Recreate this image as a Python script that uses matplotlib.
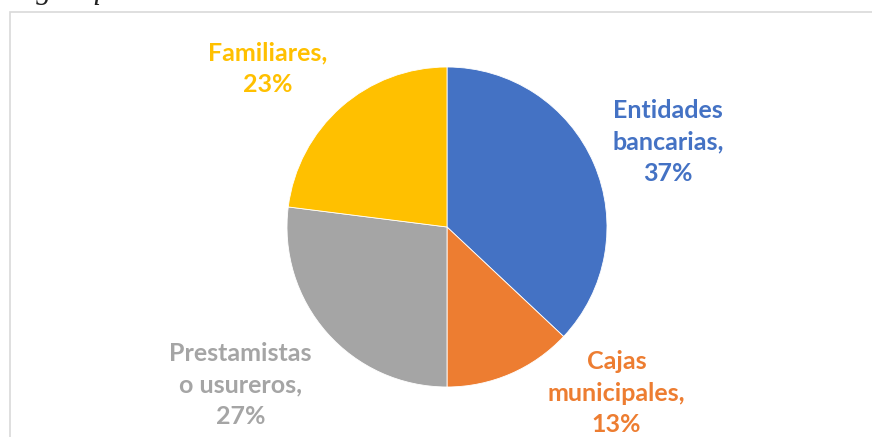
import matplotlib.pyplot as plt
from matplotlib.patches import Rectangle

categories = ['Entidades\nbancarias', 'Cajas\nmunicipales', 'Prestamistas\no usureros', 'Familiares']
values = [37, 13, 27, 23]
colors = ['#4472C4', '#ED7D31', '#A5A5A5', '#FFC000']

# label centres in data units of the pie (radius 1)
label_pos = [(1.38, 0.53), (1.06, -1.04), (-1.29, -0.99), (-1.12, 0.99)]

W, H = 872, 437
fig = plt.figure(figsize=(W / 100, H / 100), dpi=100)

# chart frame (cut off at the right and bottom)
fig.patches.append(Rectangle((9.5 / W, -0.1), 1.2, (H - 11.5) / H + 0.1,
                             transform=fig.transFigure, fill=False,
                             edgecolor='#d9d9d9', linewidth=1.2))

# caption above the chart, mostly cut off
fig.text(4 / W, 1 + 2 / H, 'Lugar que solicitó el crédito', fontsize=22,
         family='Liberation Serif', style='italic', color='#222222',
         va='baseline', ha='left')

cx, cy, r = 447, 227, 160
ax = fig.add_axes([(cx - r) / W, (H - cy - r) / H, 2 * r / W, 2 * r / H])
ax.pie(values, colors=colors, startangle=90, counterclock=False, radius=1,
       wedgeprops=dict(linewidth=0.6, edgecolor='white'))
ax.set_xlim(-1, 1)
ax.set_ylim(-1, 1)
ax.set_aspect('equal')
ax.axis('off')

for cat, v, c, (x, y) in zip(categories, values, colors, label_pos):
    ax.text(x, y, f'{cat},\n{v}%', color=c, fontsize=18, fontweight='bold',
            family='Lato', ha='center', va='center', linespacing=1.45,
            clip_on=False)

fig.savefig('out.png', dpi=100)
